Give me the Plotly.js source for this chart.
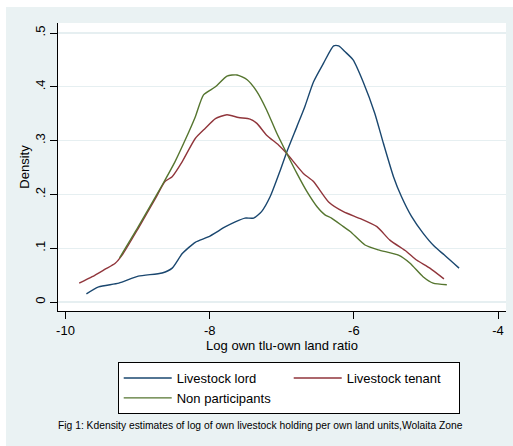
<!DOCTYPE html>
<html>
<head>
<meta charset="utf-8">
<script src="https://cdn.plot.ly/plotly-3.0.1.min.js"></script>
<style>
html,body{margin:0;padding:0;background:#ffffff;}
#chart{position:absolute;left:6px;top:7px;width:507px;height:439px;}
</style>
</head>
<body>
<div id="chart"></div>
<script>
// Livestock lord
var lordX = [-9.71,-9.54,-9.26,-8.99,-8.66,-8.52,-8.38,-8.20,-8.02,-7.78,-7.645,-7.51,-7.39,-7.28,-7.16,-7.02,-6.93,-6.79,-6.68,-6.56,-6.42,-6.28,-6.21,-6.12,-6.01,-5.87,-5.71,-5.59,-5.45,-5.34,-5.20,-5.04,-4.88,-4.74,-4.54];
var lordY = [0.015,0.028,0.035,0.048,0.054,0.063,0.090,0.111,0.121,0.140,0.149,0.156,0.156,0.168,0.196,0.245,0.279,0.326,0.363,0.409,0.444,0.476,0.476,0.465,0.450,0.409,0.351,0.295,0.233,0.196,0.159,0.128,0.103,0.087,0.063];
// Livestock tenant
var tenantX = [-9.81,-9.63,-9.45,-9.31,-9.215,-8.99,-8.75,-8.62,-8.52,-8.38,-8.20,-8.06,-7.92,-7.76,-7.60,-7.44,-7.345,-7.21,-7.045,-6.93,-6.70,-6.56,-6.35,-6.145,-5.91,-5.68,-5.50,-5.27,-5.13,-4.945,-4.75];
var tenantY = [0.035,0.047,0.061,0.072,0.087,0.137,0.193,0.224,0.233,0.261,0.304,0.323,0.341,0.348,0.343,0.340,0.332,0.310,0.292,0.276,0.239,0.224,0.186,0.168,0.155,0.140,0.115,0.094,0.078,0.063,0.043];
// Non participants
var nonX = [-9.25,-8.99,-8.66,-8.48,-8.34,-8.20,-8.085,-7.92,-7.76,-7.62,-7.48,-7.345,-7.21,-7.07,-6.93,-6.79,-6.65,-6.51,-6.40,-6.31,-6.145,-6.05,-5.845,-5.66,-5.38,-5.22,-5.04,-4.90,-4.71];
var nonY = [0.082,0.140,0.217,0.261,0.301,0.344,0.385,0.400,0.420,0.422,0.413,0.391,0.357,0.314,0.276,0.239,0.205,0.177,0.162,0.156,0.140,0.131,0.106,0.097,0.087,0.072,0.047,0.035,0.032];

var seriesNames = ["Livestock lord","Livestock tenant","Non participants"];
var xTickVals = [-10,-8,-6,-4];
var xTickText = ["-10","-8","-6","-4"];
var yTickVals = [0,0.1,0.2,0.3,0.4,0.5];
var yTickText = ["0",".1",".2",".3",".4",".5"];

var FONT = "Liberation Sans, Arial, sans-serif";
function tr(x,y,name,color){
  return {x:x,y:y,name:name,type:"scatter",mode:"lines",
    line:{color:color,width:1.4,shape:"spline",smoothing:0.6},hoverinfo:"skip"};
}
var data = [
  tr(lordX,lordY,seriesNames[0],"#1a476f"),
  tr(tenantX,tenantY,seriesNames[1],"#90353b"),
  tr(nonX,nonY,seriesNames[2],"#55752f")
];
var layout = {
  width:507,height:439,
  paper_bgcolor:"#eaf2f3",plot_bgcolor:"#ffffff",
  margin:{l:51.5,r:7,t:16,b:135},
  font:{family:FONT,size:13,color:"#000"},
  showlegend:true,
  xaxis:{range:[-10.104,-3.889],tickvals:xTickVals,ticktext:xTickText,ticks:"outside",ticklen:7,tickcolor:"#000",
    showline:true,linecolor:"#000",linewidth:1,showgrid:false,zeroline:false,mirror:false,
    tickfont:{size:13},title:{text:"Log own tlu-own land ratio",font:{size:13},standoff:0}},
  yaxis:{range:[-0.0167,0.5186],tickvals:yTickVals,ticktext:yTickText,tickangle:-90,ticks:"outside",ticklen:7,tickcolor:"#000",
    showline:true,linecolor:"#000",linewidth:1,showgrid:true,gridcolor:"#e6eff1",gridwidth:1.3,zeroline:false,
    tickfont:{size:13},title:{text:"Density",font:{size:13},standoff:0}},
  legend:{orientation:"h",x:0.515,xanchor:"center",y:-0.177,yanchor:"top",
    bgcolor:"#ffffff",bordercolor:"#000",borderwidth:1,font:{size:13},
    itemwidth:48,entrywidth:107,tracegroupgap:0},
  annotations:[{text:"Fig 1: Kdensity estimates of log of own livestock holding per own land units,Wolaita Zone",
    xref:"paper",yref:"paper",x:0.4526,y:-0.396,xanchor:"center",yanchor:"middle",showarrow:false,
    font:{family:"Liberation Sans Narrow, Arial Narrow, Liberation Sans, sans-serif",size:10.3,color:"#000"}}]
};
Plotly.newPlot("chart",data,layout,{displayModeBar:false,staticPlot:true});
</script>
</body>
</html>
